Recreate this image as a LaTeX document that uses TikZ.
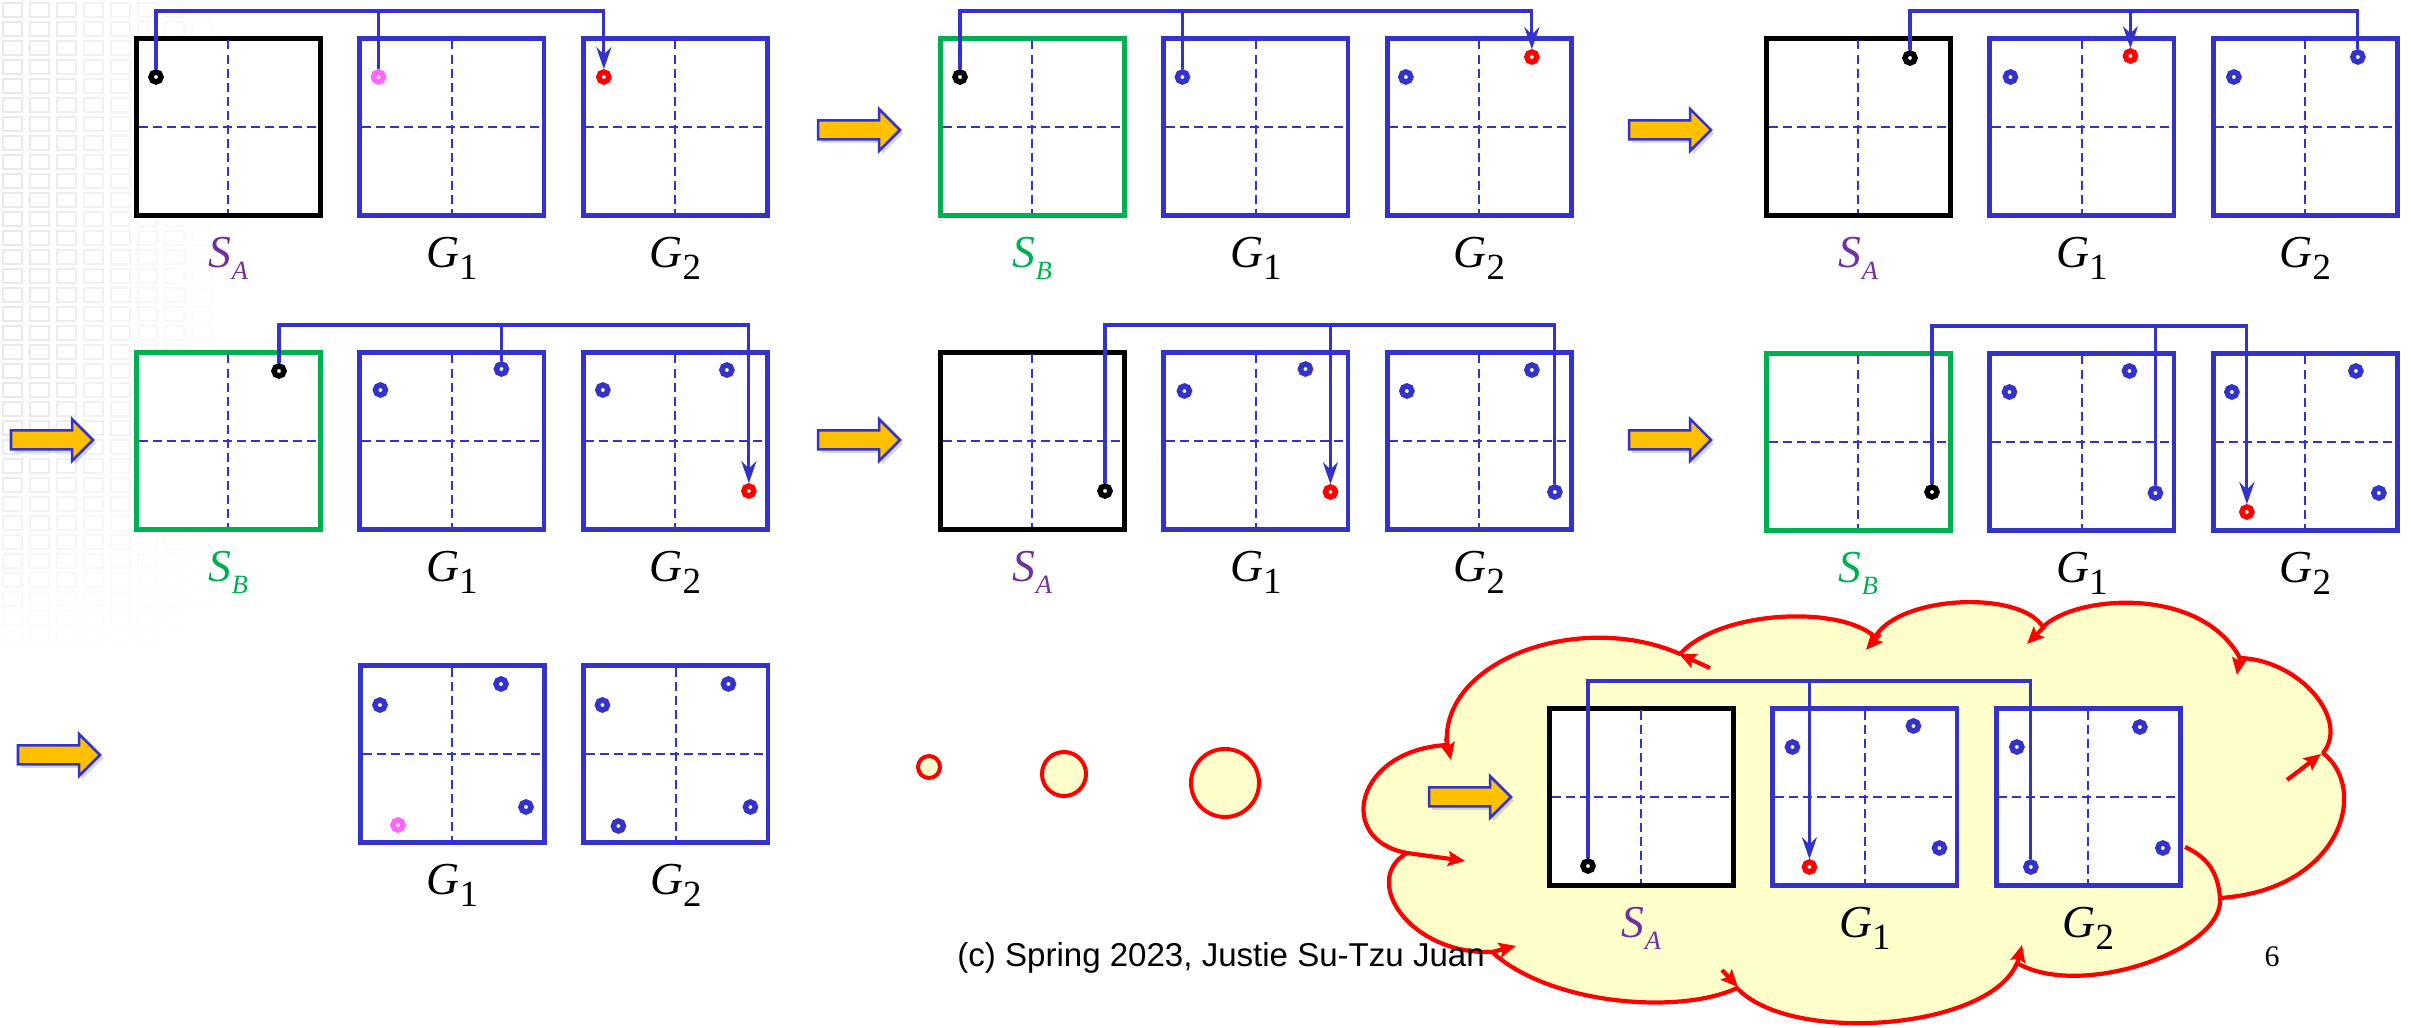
\documentclass[tikz,border=0pt]{standalone}
\usepackage{fontspec}
\setmainfont{Liberation Serif}
\newfontfamily\slidefoot{Liberation Sans}
\usepackage{tikz}
\usetikzlibrary{arrows.meta,positioning,shadows}
\definecolor{cellblue}{HTML}{3333CC}
\definecolor{bgreen}{HTML}{00B050}
\definecolor{apurple}{HTML}{7030A0}
\definecolor{fresh}{HTML}{FF66FF}
\definecolor{gold}{HTML}{FFC000}
\definecolor{puff}{HTML}{FFFFCC}
\definecolor{hot}{HTML}{FF0000}
\newcommand{\glab}[1]{\textit{G}\raisebox{-0.12cm}{\fontsize{10.5}{11}\selectfont #1}}
\newcommand{\slab}[1]{\textit{S}\raisebox{-0.12cm}{\fontsize{7.5}{8}\selectfont\itshape #1}}

\begin{document}
\begin{tikzpicture}[x=0.01cm,y=-0.01cm,>={Stealth[length=0.22cm,width=0.15cm]},
  board/.style={draw=#1,fill=white,line width=0.048cm,minimum width=1.84cm,
                minimum height=1.77cm,inner sep=0pt,anchor=north west},
  cut/.style={draw=cellblue,line width=0.02cm,dash pattern=on 0.09cm off 0.05cm},
  spot/.style={circle,draw=#1,fill=white,line width=0.055cm,minimum size=0.1cm,inner sep=0pt},
  link/.style={draw=cellblue,line width=0.032cm},
  lbl/.style={anchor=base,font=\fontsize{13}{15}\selectfont},
  bubble/.style={circle,draw=hot,fill=puff,line width=0.04cm,inner sep=0pt},
  rim/.style={draw=hot,line width=0.042cm,line join=round},
  puffhead/.style={rim,-{Stealth[length=0.17cm,width=0.15cm,inset=0.03cm]}},
  pics/nudge/.style={code={\draw[draw=cellblue,fill=gold,line width=0.025cm,
      drop shadow={shadow xshift=0.03cm,shadow yshift=-0.035cm,opacity=0.3}]
      (0,-9.5) -- (61,-9.5) -- (61,-21) -- (82,0) -- (61,21) -- (61,9.5) -- (0,9.5) -- cycle;}}]
  \useasboundingbox (0,0) rectangle (2417,1028);
  \foreach \i in {0,...,7}
    \foreach \j in {0,...,33}{
      \pgfmathsetmacro\fade{0.22*(1-\i/8)*min(1,(34-\j)/12)}
      \draw[black!40,opacity=\fade,line width=0.012cm] (\i*27+3,\j*19+3) rectangle ++(19,14);
    }

  \path[rim,fill=puff] (1447,745)
    .. controls (1440,660) and (1580,610) .. (1680,654)
    .. controls (1720,610) and (1840,605) .. (1875,637)
    .. controls (1900,595) and (2020,590) .. (2043,627)
    .. controls (2075,595) and (2200,585) .. (2240,658)
    .. controls (2300,660) and (2350,720) .. (2323,753)
    .. controls (2370,790) and (2340,890) .. (2220,898)
    .. controls (2225,950) and (2080,1000) .. (2017,963)
    .. controls (1990,1030) and (1790,1045) .. (1737,988)
    .. controls (1680,1015) and (1550,1005) .. (1492,952)
    .. controls (1410,955) and (1360,880) .. (1407,853)
    .. controls (1335,840) and (1355,750) .. (1447,745)
    -- cycle;
  \draw[puffhead] (1446,738) -- (1451,760);
  \draw[puffhead] (1710,668) -- (1679,654);
  \draw[puffhead] (1880,634) -- (1866,650);
  \draw[puffhead] (2045,626) -- (2027,644);
  \draw[puffhead] (2240,656) -- (2237,675);
  \draw[puffhead] (2287,780) -- (2321,754);
  \draw[puffhead] (2017,965) -- (2022,945);
  \draw[puffhead] (1722,970) -- (1738,987);
  \draw[puffhead] (1492,952) -- (1516,946);
  \draw[puffhead] (1407,853) .. controls (1430,856) .. (1465,861);
  \draw[rim] (2220,898) .. controls (2218,870) and (2205,856) .. (2185,847);

  \foreach \n/\x/\y/\col/\sl/\lc in {1/134/36/black/A/apurple,2/938/36/bgreen/B/bgreen,
      3/1764/36/black/A/apurple,4/134/350/bgreen/B/bgreen,5/938/350/black/A/apurple,
      6/1764/351/bgreen/B/bgreen,8/1547/706/black/A/apurple}{
    \node[board=\col] (s\n) at (\x,\y) {};
    \node[board=cellblue,right=0.345cm of s\n] (ga\n) {};
    \node[board=cellblue,right=0.345cm of ga\n] (gb\n) {};
    \foreach \b in {s\n,ga\n,gb\n}
      \draw[cut] ([yshift=-0.045cm]\b.north) -- ([yshift=0.045cm]\b.south)
                 ([xshift=0.045cm]\b.west) -- ([xshift=-0.045cm]\b.east);
    \node[lbl,text=\lc] (ls\n) at ([yshift=-0.5cm]s\n.south) {\slab{\sl}};
    \node[lbl] (la\n) at ([yshift=-0.5cm]ga\n.south) {\glab{1}};
    \node[lbl] (lb\n) at ([yshift=-0.5cm]gb\n.south) {\glab{2}};
    \coordinate (t\n) at ([yshift=0.25cm]s\n.north);
  }
  \node[board=cellblue] (ga7) at (358,663) {};
  \node[board=cellblue,right=0.345cm of ga7] (gb7) {};
  \foreach \b in {ga7,gb7}
    \draw[cut] ([yshift=-0.045cm]\b.north) -- ([yshift=0.045cm]\b.south)
               ([xshift=0.045cm]\b.west) -- ([xshift=-0.045cm]\b.east);
  \node[lbl] (la7) at ([yshift=-0.5cm]ga7.south) {\glab{1}};
  \node[lbl] (lb7) at ([yshift=-0.5cm]gb7.south) {\glab{2}};

  \foreach \m/\b/\dx/\dy/\col in {
      s1a/s1/22/41/black, ga1a/ga1/21/41/fresh, gb1a/gb1/23/41/hot,
      s2a/s2/22/41/black, ga2a/ga2/21/41/cellblue, gb2a/gb2/21/41/cellblue, gb2b/gb2/147/21/hot,
      s3b/s3/146/22/black, ga3a/ga3/23/41/cellblue, ga3b/ga3/143/20/hot,
      gb3a/gb3/23/41/cellblue, gb3b/gb3/147/21/cellblue,
      s4b/s4/145/21/black, ga4a/ga4/23/40/cellblue, ga4b/ga4/144/19/cellblue,
      gb4a/gb4/22/40/cellblue, gb4b/gb4/146/20/cellblue, gb4c/gb4/168/141/hot,
      s5c/s5/167/141/black, ga5a/ga5/23/41/cellblue, ga5b/ga5/144/19/cellblue, ga5c/ga5/169/142/hot,
      gb5a/gb5/22/41/cellblue, gb5b/gb5/147/20/cellblue, gb5c/gb5/170/142/cellblue,
      s6c/s6/168/141/black, ga6a/ga6/22/41/cellblue, ga6b/ga6/142/20/cellblue, ga6c/ga6/168/142/cellblue,
      gb6a/gb6/21/41/cellblue, gb6b/gb6/145/20/cellblue, gb6c/gb6/168/142/cellblue, gb6d/gb6/36/161/hot,
      ga7a/ga7/22/42/cellblue, ga7b/ga7/143/21/cellblue, ga7c/ga7/168/144/cellblue, ga7d/ga7/40/162/fresh,
      gb7a/gb7/21/42/cellblue, gb7b/gb7/147/21/cellblue, gb7c/gb7/169/144/cellblue, gb7d/gb7/37/163/cellblue,
      s8d/s8/41/160/black, ga8a/ga8/22/41/cellblue, ga8b/ga8/143/20/cellblue, ga8c/ga8/169/142/cellblue,
      ga8d/ga8/39/161/hot, gb8a/gb8/23/41/cellblue, gb8b/gb8/146/21/cellblue, gb8c/gb8/169/142/cellblue,
      gb8d/gb8/37/161/cellblue}
    \node[spot=\col] (\m) at ([shift={(\dx,\dy)}]\b.north west) {};

  \draw[link,->] (s1a) -- (s1a |- t1) -| (gb1a);
  \draw[link] (ga1a) -- (ga1a |- t1);
  \draw[link,->] (s2a) -- (s2a |- t2) -| (gb2b);
  \draw[link] (ga2a) -- (ga2a |- t2);
  \draw[link] (s3b) -- (s3b |- t3) -| (gb3b);
  \draw[link,->] (ga3b |- t3) -- (ga3b);
  \draw[link,->] (s4b) -- (s4b |- t4) -| (gb4c);
  \draw[link] (ga4b) -- (ga4b |- t4);
  \draw[link] (s5c) -- (s5c |- t5) -| (gb5c);
  \draw[link,->] (ga5c |- t5) -- (ga5c);
  \draw[link,->] (s6c) -- (s6c |- t6) -| (gb6d);
  \draw[link] (ga6c) -- (ga6c |- t6);
  \draw[link] (s8d) -- (s8d |- t8) -| (gb8d);
  \draw[link,->] (ga8d |- t8) -- (ga8d);

  \foreach \x/\y in {818/130,1629/130,11/440,818/440,1629/440,18/755,1429/797}
    \pic at (\x,\y) {nudge};

  \node[bubble,minimum size=0.22cm] (o1) at (929,767) {};
  \node[bubble,minimum size=0.44cm] (o2) at (1064,774) {};
  \node[bubble,minimum size=0.68cm] (o3) at (1225,783) {};

  \node[anchor=base west,font=\slidefoot\fontsize{9.4}{11}\selectfont] (foot) at (945,967)
       {(c) Spring 2023, Justie Su-Tzu Juan};
  \node[anchor=base,font=\fontsize{8.5}{10}\selectfont] (pageno) at (2272,967) {6};
\end{tikzpicture}
\end{document}
